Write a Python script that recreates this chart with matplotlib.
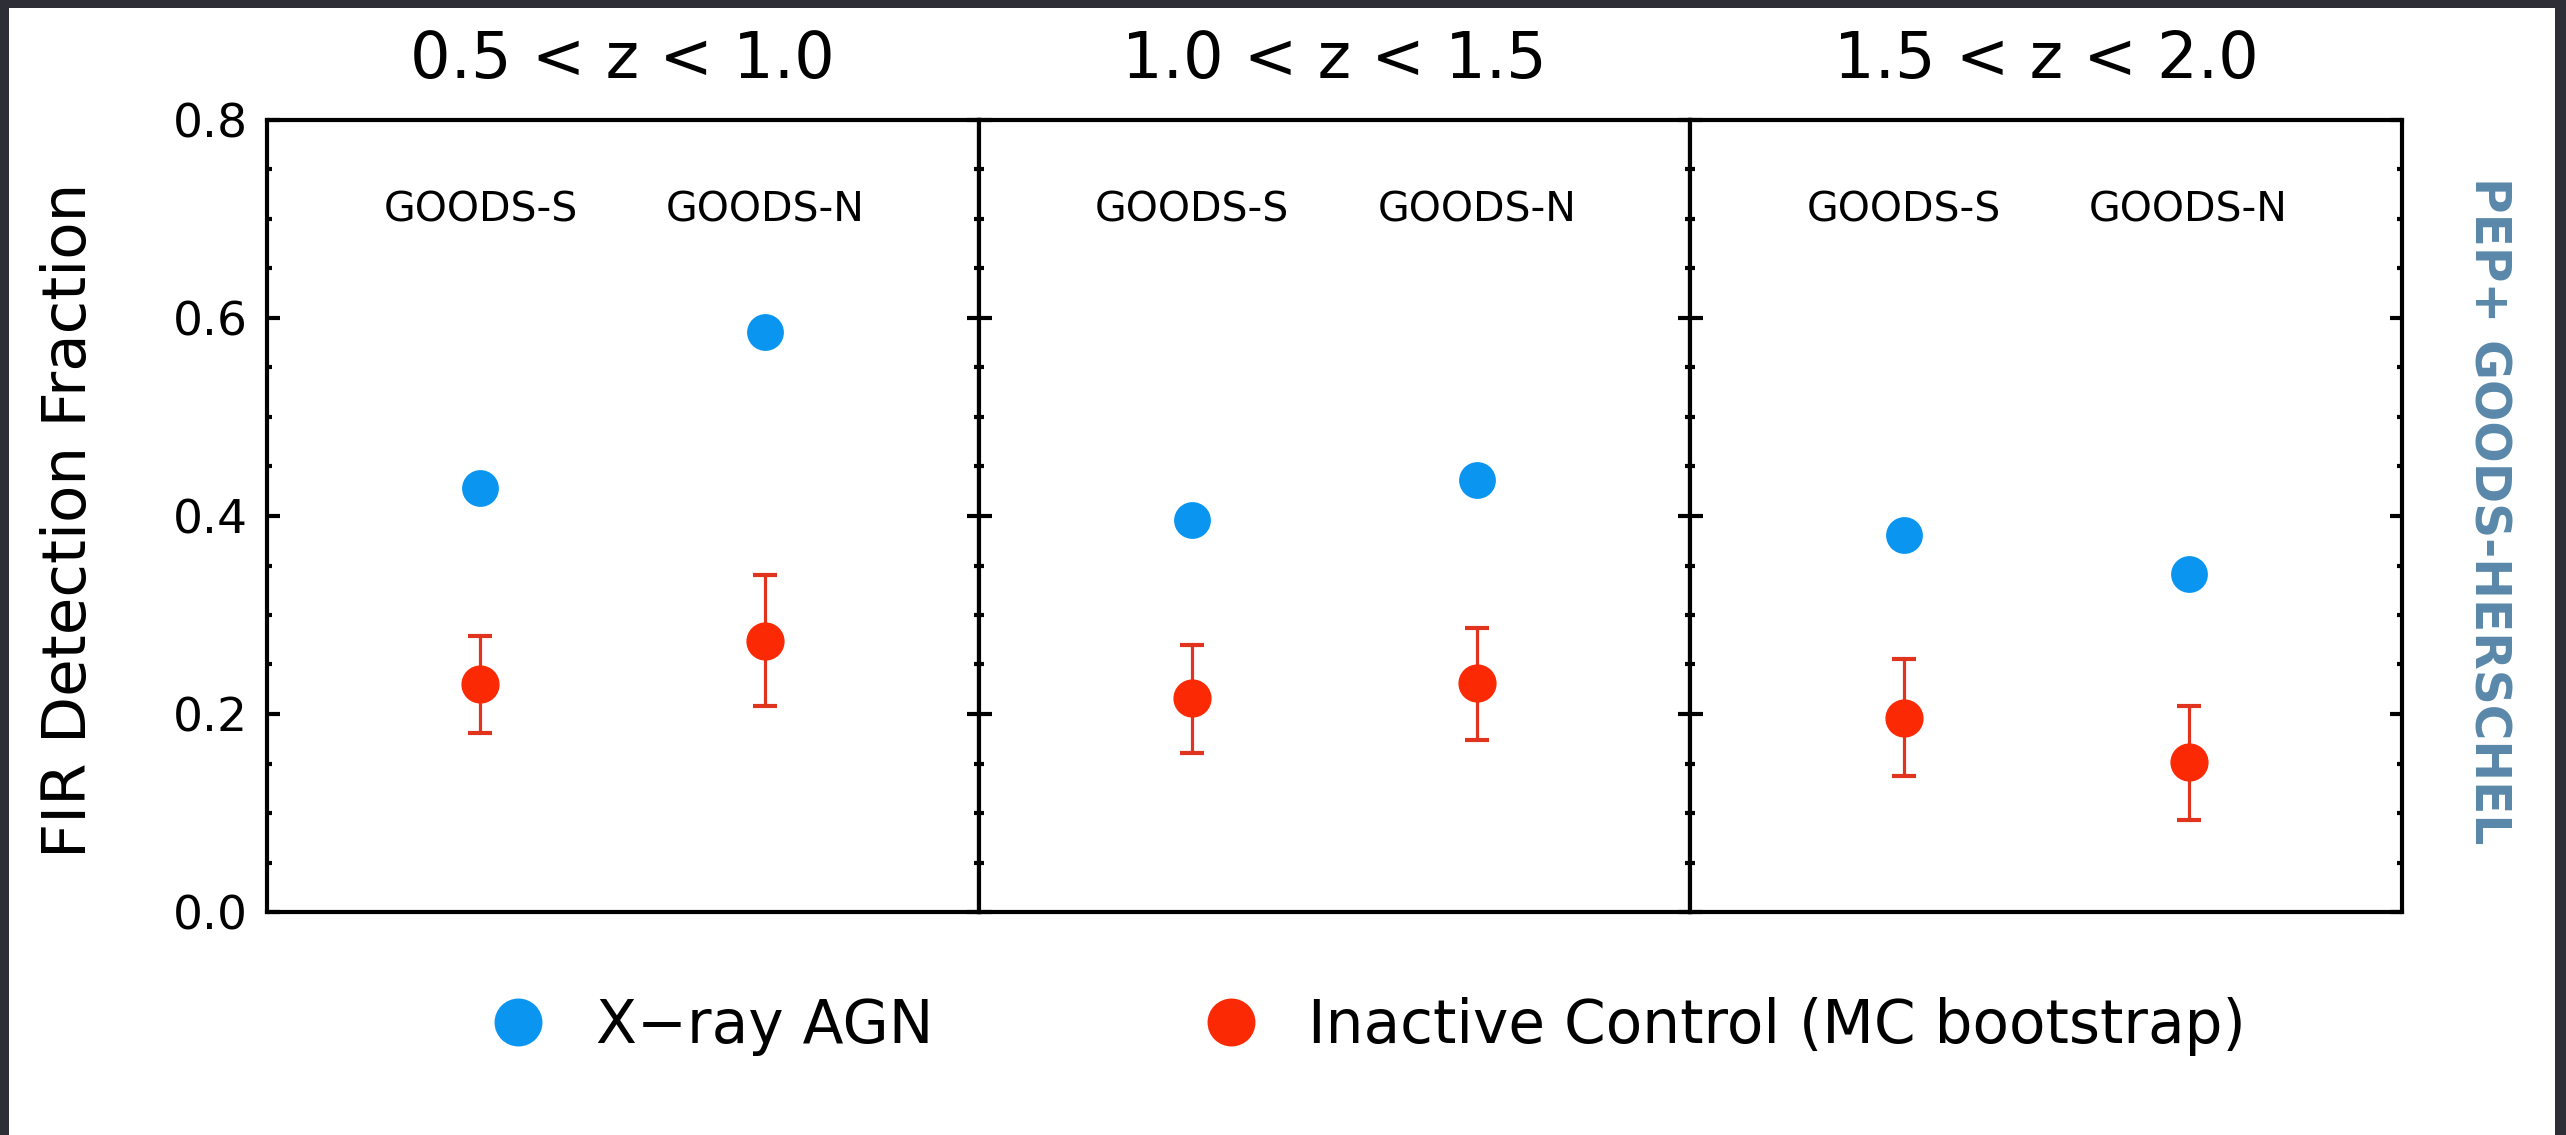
import matplotlib
matplotlib.use('Agg')
import matplotlib.pyplot as plt
from matplotlib import font_manager
from matplotlib.lines import Line2D
from matplotlib.patches import Rectangle
from matplotlib.ticker import MultipleLocator

# ============================================================================
# DATOS
# ============================================================================
rangos_z = ['0.5 < z < 1.0', '1.0 < z < 1.5', '1.5 < z < 2.0']
campos = ['GOODS-S', 'GOODS-N']

# fraccion de deteccion FIR, un par (GOODS-S, GOODS-N) por rango de z
frac_agn = [[0.428, 0.586], [0.396, 0.436], [0.381, 0.341]]
frac_control = [[0.230, 0.274], [0.216, 0.231], [0.196, 0.152]]
control_sup = [[0.279, 0.340], [0.270, 0.287], [0.256, 0.208]]
control_inf = [[0.181, 0.208], [0.161, 0.174], [0.137, 0.093]]

etiqueta_agn = 'X\u2212ray AGN'
etiqueta_control = 'Inactive Control (MC bootstrap)'
etiqueta_y = 'FIR Detection Fraction'
texto_lateral = 'PEP+ GOODS-HERSCHEL'

# ============================================================================
# ESTILO
# ============================================================================
ANCHO, ALTO = 2566, 1135
COLOR_AGN = '#0a96f0'
COLOR_CTRL = '#fb2a04'
COLOR_BARRA = '#e0341f'
COLOR_FONDO = '#2e2e36'
COLOR_LATERAL = '#5a88aa'
X_CAMPOS = [0.3, 0.7]

plt.rcParams['font.family'] = ['DejaVu Sans']

nombres = set(font_manager.get_font_names())
if 'Liberation Sans Narrow' in nombres:
    fuente_lateral, talla_lateral = 'Liberation Sans Narrow', 46
else:
    fuente_lateral, talla_lateral = 'DejaVu Sans', 35

fig = plt.figure(figsize=(ANCHO / 100, ALTO / 100), dpi=100)
fig.patch.set_facecolor(COLOR_FONDO)
fig.add_artist(Rectangle((9 / ANCHO, 0), (2555 - 9) / ANCHO, (ALTO - 8) / ALTO,
                         transform=fig.transFigure, facecolor='white',
                         edgecolor='none', zorder=-5))

# posicion de los paneles en pixeles
izq, der, arriba, abajo = 267, 2402, 120, 912
ancho_panel = (der - izq) / 3

ejes = []
for i, rango in enumerate(rangos_z):
    ax = fig.add_axes([(izq + i * ancho_panel) / ANCHO, 1 - abajo / ALTO,
                       ancho_panel / ANCHO, (abajo - arriba) / ALTO])
    ejes.append(ax)

    ax.plot(X_CAMPOS, frac_agn[i], 'o', color=COLOR_AGN, markersize=26.5,
            markeredgewidth=0, zorder=3)
    err = [[c - b for c, b in zip(frac_control[i], control_inf[i])],
           [a - c for c, a in zip(frac_control[i], control_sup[i])]]
    _, caps, _ = ax.errorbar(X_CAMPOS, frac_control[i], yerr=err, fmt='o',
                             color=COLOR_CTRL, ecolor=COLOR_BARRA,
                             markersize=26.5, mec=COLOR_CTRL, elinewidth=2.3,
                             capsize=8.5, capthick=3, zorder=3)
    for cap in caps:
        cap.set_color(COLOR_BARRA)
        cap.set_markeredgewidth(3)

    for xc, campo in zip(X_CAMPOS, campos):
        ax.text(xc, 0.697, campo, ha='center', va='baseline', fontsize=29.5)

    ax.set_xlim(0, 1)
    ax.set_ylim(0, 0.8)
    ax.set_xticks([])
    ax.yaxis.set_major_locator(MultipleLocator(0.2))
    ax.yaxis.set_minor_locator(MultipleLocator(0.05))
    ax.tick_params(axis='y', which='both', direction='in', left=True,
                   right=True, width=3, labelsize=34, pad=14)
    ax.tick_params(axis='y', which='major', length=9)
    ax.tick_params(axis='y', which='minor', length=3.5)
    if i > 0:
        ax.tick_params(axis='y', labelleft=False)
    else:
        ax.yaxis.set_major_formatter(lambda v, p: f'{v:.1f}')
    for s in ax.spines.values():
        s.set_linewidth(3)
    ax.set_title(rango, fontsize=46, pad=30)

fig.text(70 / ANCHO, 1 - 520 / ALTO, etiqueta_y, rotation=90, ha='center',
         va='center', fontsize=44)

fig.text(2489 / ANCHO, 1 - 511 / ALTO, texto_lateral, rotation=-90,
         ha='center', va='center', fontsize=talla_lateral, fontweight='bold',
         color=COLOR_LATERAL, family=fuente_lateral)

# leyenda: dos entradas separadas
h_agn = Line2D([], [], ls='none', marker='o', color=COLOR_AGN,
               markersize=34.5, markeredgewidth=0)
h_ctrl = Line2D([], [], ls='none', marker='o', color=COLOR_CTRL,
                markersize=34.5, markeredgewidth=0)
y_leyenda = 1 - 1026 / ALTO
for h, txt, x_px in [(h_agn, etiqueta_agn, 518), (h_ctrl, etiqueta_control, 1231)]:
    fig.legend([h], [txt], loc='center left',
               bbox_to_anchor=((x_px - 30) / ANCHO, y_leyenda),
               frameon=False, fontsize=43, handlelength=1.0,
               handletextpad=0.8, borderpad=0, borderaxespad=0)

fig.savefig('out.png', dpi=100, facecolor=fig.get_facecolor())
